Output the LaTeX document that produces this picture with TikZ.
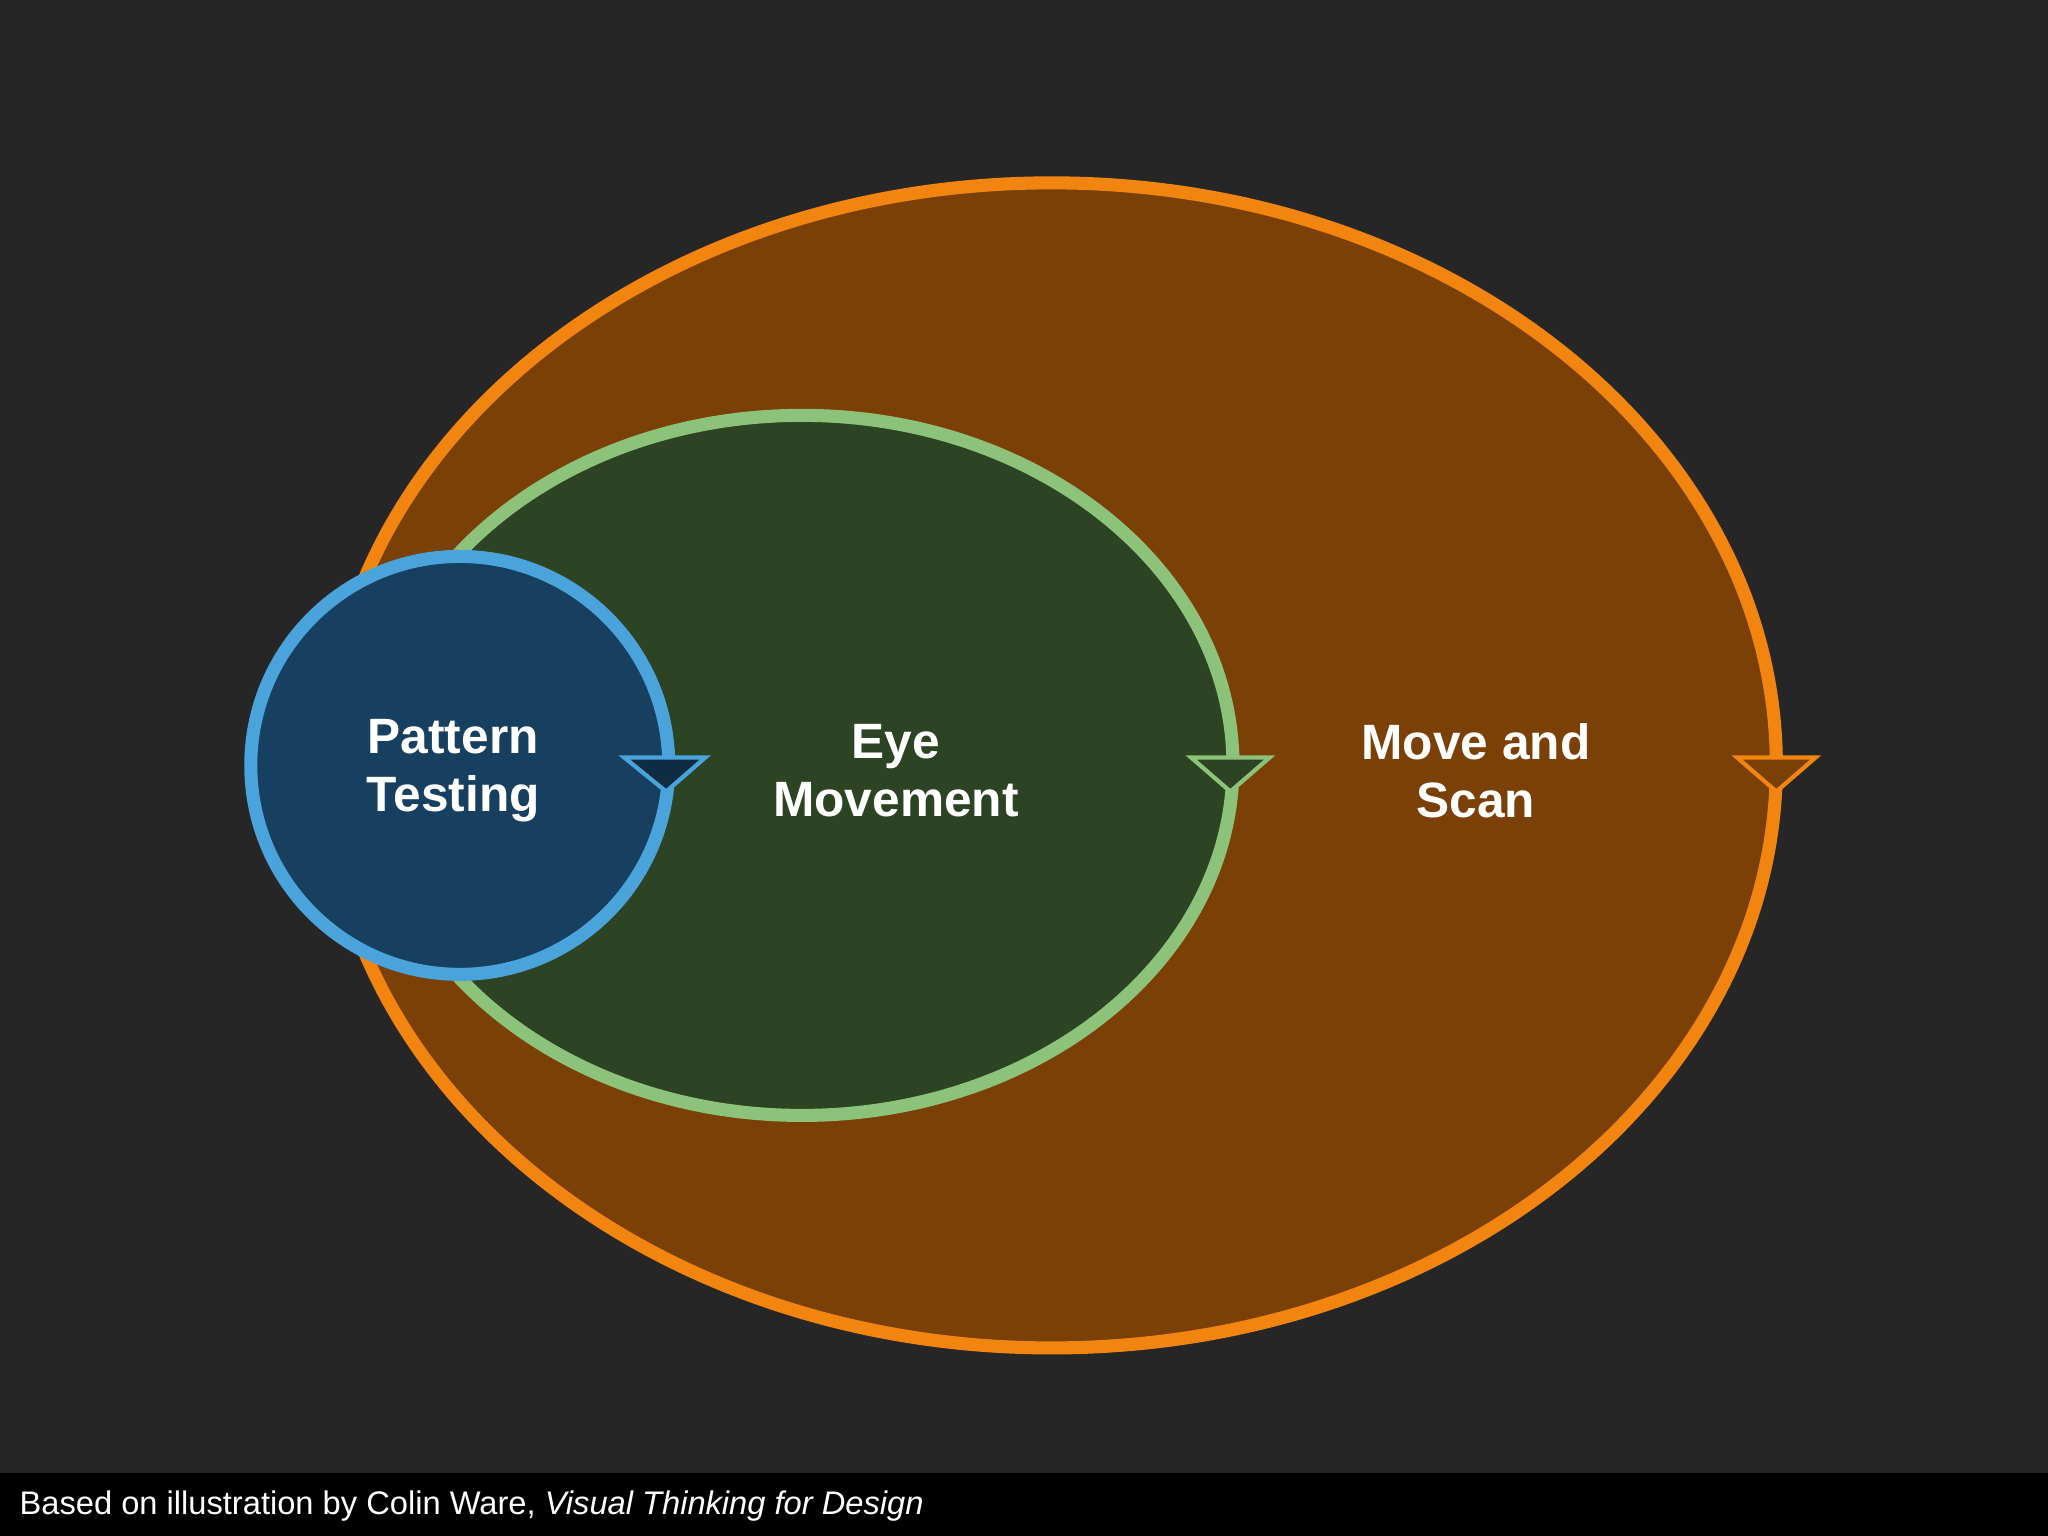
\documentclass[tikz,border=0pt]{standalone}
\usepackage{fontspec}
\setmainfont{Liberation Sans}
\definecolor{bg}{HTML}{262626}
\definecolor{ofill}{HTML}{7A4006}
\definecolor{ostroke}{HTML}{F2850F}
\definecolor{gfill}{HTML}{2C4324}
\definecolor{gstroke}{HTML}{8DC27B}
\definecolor{bfill}{HTML}{173F60}
\definecolor{bstroke}{HTML}{4BA3DB}
\begin{document}
\begin{tikzpicture}[x=0.5pt,y=-0.5pt,
  lbl/.style={text=white,font=\fontsize{19}{22}\selectfont\bfseries,align=center},
  tri/.style={line width=1.6pt,line join=miter}]
\fill[bg] (0,0) rectangle (1568,1176);
\fill[black] (0,1128) rectangle (1568,1176);
\useasboundingbox (0,0) rectangle (1568,1176);
\path[fill=ofill,draw=ostroke,line width=5pt] (805,586) ellipse [x radius=555,y radius=446];
\path[fill=gfill,draw=gstroke,line width=5pt] (614,586) ellipse [x radius=330,y radius=268];
\path[fill=bfill,draw=bstroke,line width=5pt] (352,586) circle [radius=160];
\coordinate (ta) at (478,580); \coordinate (tb) at (540,580); \coordinate (tc) at (510,606);
\draw[tri,draw=bstroke,fill=bfill!70!black] (ta) -- (tb) -- (tc) -- cycle;
\coordinate (ga) at (912,580); \coordinate (gb) at (972,580); \coordinate (gc) at (942,606);
\draw[tri,draw=gstroke,fill=gfill] (ga) -- (gb) -- (gc) -- cycle;
\coordinate (oa) at (1330,580); \coordinate (ob) at (1390,580); \coordinate (oc) at (1360,606);
\draw[tri,draw=ostroke,fill=ofill] (oa) -- (ob) -- (oc) -- cycle;
\node[lbl] (p) at (347,590) {Pattern\\Testing};
\node[lbl] (e) at (686,590) {Eye\\Movement};
\node[lbl] (m) at (1130,590) {Move and\\Scan};
\node[anchor=west,text=white,font=\fontsize{12.5}{14}\selectfont] (c) at (8,1153) {Based on illustration by Colin Ware, \textit{Visual Thinking for Design}};
\end{tikzpicture}
\end{document}
